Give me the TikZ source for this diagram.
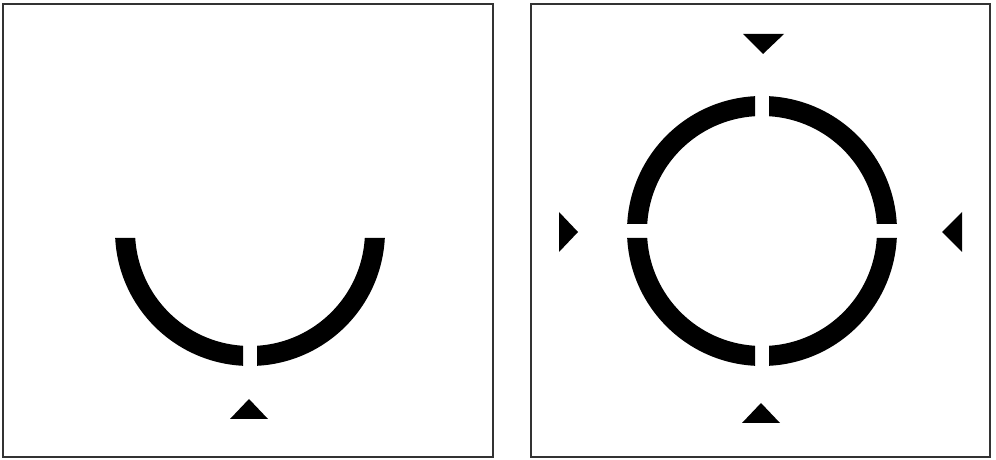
\documentclass[tikz,border=0pt]{standalone}
\usetikzlibrary{calc}
\begin{document}
\begin{tikzpicture}[x=1pt,y=1pt,
  frame/.style={draw=black!80,line width=1.6pt},
  ring/.style={fill=black},
  marker/.style={fill=black}]
\useasboundingbox (0,0) rectangle (996,460);
% panel frames
\draw[frame] (3,3) rectangle (493,456);
\draw[frame] (531,3) rectangle (990,456);
\def\Ro{135}\def\Ri{115}
\pgfmathsetmacro{\ao}{asin(7/\Ro)}
\pgfmathsetmacro{\ai}{asin(7/\Ri)}
% segment macro: center, start angle, end angle (gap-adjusted)
\newcommand{\ringseg}[4]{%
  \pgfmathsetmacro{\sa}{#3+\ao}\pgfmathsetmacro{\ea}{#4-\ao}%
  \pgfmathsetmacro{\sai}{#3+\ai}\pgfmathsetmacro{\eai}{#4-\ai}%
  \fill[ring] ($(#1,#2)+(\sa:\Ro)$) arc[start angle=\sa,end angle=\ea,radius=\Ro]
    -- ($(#1,#2)+(\eai:\Ri)$) arc[start angle=\eai,end angle=\sai,radius=\Ri] -- cycle;}
% left panel: lower half ring
\ringseg{250}{229}{180}{270}
\ringseg{250}{229}{270}{360}
\fill[marker] (249,61) -- (268,41) -- (230,41) -- cycle;
% right panel: full ring in four quarters
\ringseg{762}{229}{0}{90}
\ringseg{762}{229}{90}{180}
\ringseg{762}{229}{180}{270}
\ringseg{762}{229}{270}{360}
\fill[marker] (763,406) -- (784,426) -- (743,426) -- cycle;
\fill[marker] (761,57) -- (780,37) -- (742,37) -- cycle;
\fill[marker] (578,228) -- (559,248) -- (559,208) -- cycle;
\fill[marker] (942,228) -- (962,248) -- (962,208) -- cycle;
\end{tikzpicture}
\end{document}
